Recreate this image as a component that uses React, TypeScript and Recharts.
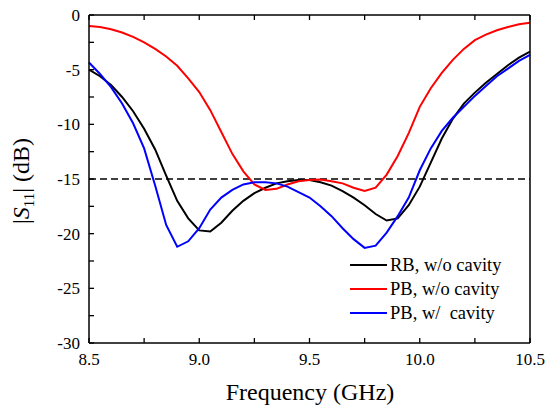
import React from 'react';
import { LineChart, Line, XAxis, YAxis, ReferenceLine, Legend } from 'recharts';

// frequency samples (GHz), 0.05 GHz step
const freq = [
  8.5, 8.55, 8.6, 8.65, 8.7, 8.75, 8.8, 8.85, 8.9, 8.95,
  9.0, 9.05, 9.1, 9.15, 9.2, 9.25, 9.3, 9.35, 9.4, 9.45,
  9.5, 9.55, 9.6, 9.65, 9.7, 9.75, 9.8, 9.85, 9.9, 9.95,
  10.0, 10.05, 10.1, 10.15, 10.2, 10.25, 10.3, 10.35, 10.4, 10.45, 10.5,
];

// |S11| in dB
const rbNoCavity = [
  -5.0, -5.6, -6.4, -7.5, -8.8, -10.4, -12.3, -14.7, -17.0, -18.6,
  -19.7, -19.8, -19.0, -17.9, -17.0, -16.3, -15.8, -15.4, -15.2, -15.1,
  -15.1, -15.3, -15.6, -16.1, -16.7, -17.4, -18.2, -18.8, -18.6, -17.4,
  -15.7, -13.5, -11.3, -9.5, -8.1, -7.1, -6.2, -5.4, -4.6, -3.9, -3.35,
];

const pbNoCavity = [
  -1.0, -1.1, -1.3, -1.6, -2.0, -2.5, -3.1, -3.8, -4.65, -5.8,
  -7.05, -8.7, -10.7, -12.7, -14.3, -15.5, -16.0, -15.9, -15.5, -15.2,
  -15.1, -15.05, -15.2, -15.4, -15.8, -16.1, -15.8, -14.6, -12.9, -10.8,
  -8.4, -6.7, -5.3, -4.1, -3.1, -2.3, -1.8, -1.4, -1.1, -0.85, -0.7,
];

const pbCavity = [
  -4.35, -5.4, -6.6, -8.1, -9.9, -12.2, -15.6, -19.2, -21.2, -20.7,
  -19.5, -17.8, -16.7, -16.0, -15.5, -15.3, -15.3, -15.4, -15.7, -16.2,
  -16.7, -17.5, -18.4, -19.5, -20.5, -21.3, -21.1, -19.9, -18.4, -16.7,
  -14.2, -12.2, -10.6, -9.4, -8.4, -7.4, -6.5, -5.6, -4.9, -4.2, -3.65,
];

// labelled ticks and all tick marks (minor included)
const xMajor = [8.5, 9.0, 9.5, 10.0, 10.5];
const xTicks = [8.5, 8.75, 9.0, 9.25, 9.5, 9.75, 10.0, 10.25, 10.5];
const yMajor = [0, -5, -10, -15, -20, -25, -30];
const yTicks = [0, -2.5, -5, -7.5, -10, -12.5, -15, -17.5, -20, -22.5, -25, -27.5, -30];

const threshold = -15;

const series = [
  { key: 'rb', name: 'RB, w/o cavity', color: '#000000' },
  { key: 'pb', name: 'PB, w/o cavity', color: '#ff0000' },
  { key: 'pbc', name: 'PB, w/  cavity', color: '#0000ff' },
];

const data = freq.map((f, i) => ({
  f,
  rb: rbNoCavity[i],
  pb: pbNoCavity[i],
  pbc: pbCavity[i],
}));

const FONT = 'Liberation Serif';
const TICK_LEN = 5;
const TICK_COLOR = '#000';
const axisLine = { stroke: '#000', strokeWidth: 1.5 };

// ticks point inward on every side; only major values get a label
const BottomTick = (p: any) => {
  const v = p.payload.value;
  return (
    <g>
      <line x1={p.x} y1={p.y} x2={p.x} y2={p.y - TICK_LEN} stroke={TICK_COLOR} strokeWidth={1.3} />
      {xMajor.includes(v) && (
        <text x={p.x} y={p.y + 22} textAnchor="middle" fontSize={17} fill="#000" fontFamily={FONT}>
          {v.toFixed(1)}
        </text>
      )}
    </g>
  );
};

const LeftTick = (p: any) => {
  const v = p.payload.value;
  return (
    <g>
      <line x1={p.x} y1={p.y} x2={p.x + TICK_LEN} y2={p.y} stroke={TICK_COLOR} strokeWidth={1.3} />
      {yMajor.includes(v) && (
        <text x={p.x - 9} y={p.y + 6} textAnchor="end" fontSize={17} fill="#000" fontFamily={FONT}>
          {v}
        </text>
      )}
    </g>
  );
};

const TopTick = (p: any) => (
  <line x1={p.x} y1={p.y} x2={p.x} y2={p.y + TICK_LEN} stroke={TICK_COLOR} strokeWidth={1.3} />
);

const RightTick = (p: any) => (
  <line x1={p.x} y1={p.y} x2={p.x - TICK_LEN} y2={p.y} stroke={TICK_COLOR} strokeWidth={1.3} />
);

const YLabel = () => (
  <text transform="translate(29,181) rotate(-90)" textAnchor="middle" fontFamily={FONT} fontSize={24} fill="#000">
    |<tspan fontStyle="italic">S</tspan>
    <tspan fontSize={15} dy={5}>11</tspan>
    <tspan dy={-5}>| (dB)</tspan>
  </text>
);

const XLabel = () => (
  <text x={310} y={400} textAnchor="middle" fontFamily={FONT} fontSize={24} fill="#000">
    Frequency (GHz)
  </text>
);

const LegendBox = (props: any) => {
  const items = props.payload || [];
  return (
    <div style={{ fontFamily: FONT, fontSize: 18.5, color: '#000' }}>
      {items.map((item: any) => (
        <div key={item.value} style={{ display: 'flex', alignItems: 'center', height: 24, whiteSpace: 'pre' }}>
          <svg width={40} height={24} style={{ display: 'block' }}>
            <line x1={0} y1={12} x2={37} y2={12} stroke={item.color} strokeWidth={2.2} />
          </svg>
          <span style={{ lineHeight: '24px' }}>{item.value}</span>
        </div>
      ))}
    </div>
  );
};

export default function App() {
  return (
    <div style={{ width: 547, height: 409, background: '#fff' }}>
      <style>{'body{margin:0}'}</style>
      <LineChart width={547} height={409} data={data} margin={{ top: 14, right: 16, left: 0, bottom: 0 }}>
        <XAxis
          xAxisId="main"
          dataKey="f"
          type="number"
          domain={[8.5, 10.5]}
          ticks={xTicks}
          interval={0}
          height={66}
          tickSize={0}
          tickMargin={0}
          axisLine={axisLine}
          tick={BottomTick}
          label={{ content: () => <XLabel /> }}
        />
        <XAxis
          xAxisId="top"
          orientation="top"
          dataKey="f"
          type="number"
          domain={[8.5, 10.5]}
          ticks={xTicks}
          interval={0}
          height={1}
          tickSize={0}
          tickMargin={0}
          axisLine={axisLine}
          tick={TopTick}
        />
        <YAxis
          yAxisId="main"
          type="number"
          domain={[-30, 0]}
          ticks={yTicks}
          interval={0}
          width={89}
          tickSize={0}
          tickMargin={0}
          axisLine={axisLine}
          tick={LeftTick}
          label={{ content: () => <YLabel /> }}
        />
        <YAxis
          yAxisId="right"
          orientation="right"
          type="number"
          domain={[-30, 0]}
          ticks={yTicks}
          interval={0}
          width={1}
          tickSize={0}
          tickMargin={0}
          axisLine={axisLine}
          tick={RightTick}
        />
        <ReferenceLine xAxisId="main" yAxisId="main" y={threshold} stroke="#000" strokeWidth={1.5} strokeDasharray="7 4" />
        {series.map((s) => (
          <Line
            key={s.key}
            xAxisId="main"
            yAxisId="main"
            type="linear"
            dataKey={s.key}
            name={s.name}
            stroke={s.color}
            strokeWidth={2}
            dot={false}
            isAnimationActive={false}
          />
        ))}
        <Legend
          layout="vertical"
          align="center"
          verticalAlign="middle"
          itemSorter={(item: any) => series.findIndex((s) => s.name === item.value)}
          content={<LegendBox />}
          wrapperStyle={{ position: 'absolute', left: 350, top: 253, width: 190 }}
        />
      </LineChart>
    </div>
  );
}
